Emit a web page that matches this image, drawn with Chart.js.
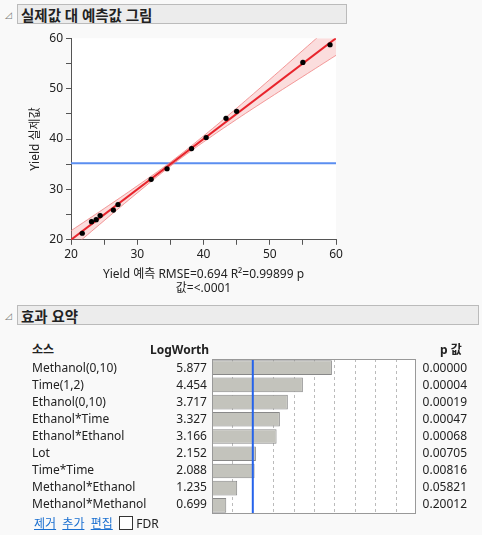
<!DOCTYPE html>
<html><head><meta charset="utf-8">
<script src="https://cdn.jsdelivr.net/npm/chart.js@4"></script>
<style>
body{margin:0;background:#f9f9f9;font-family:"Noto Sans","Noto Sans CJK KR",sans-serif;font-size:12px;color:#222;width:482px;height:535px;position:relative;overflow:hidden}
.hdr{position:absolute;left:17px;height:20px;background:#ececec;border:1px solid #bbb;font-weight:bold;font-size:14.5px;line-height:20px;padding-left:3px;box-sizing:border-box}
.tri{position:absolute;left:5px;font-size:9px;color:#777}
.row{position:absolute;height:17px;line-height:17px;white-space:nowrap}
a{color:#1a6fd0;text-decoration:underline}
</style></head><body>
<div class="tri" style="top:8px">◿</div>
<div class="hdr" style="top:4px;width:330px">실제값 대 예측값 그림</div>
<div class="tri" style="top:309px">◿</div>
<div class="hdr" style="top:305px;width:462px">효과 요약</div>
<div style="position:absolute;left:0;top:28px;width:350px;height:272px"><canvas id="c1"></canvas></div>
<div style="position:absolute;left:211px;top:359px;width:206px;height:155px"><canvas id="c2"></canvas></div>
<div id="tbl"></div>
<script>
const predicted=[21.7,23.1,23.8,24.4,26.4,27.1,32.1,34.5,38.2,40.4,43.4,45.0,55.0,59.1];
const actual=[21.3,23.6,24.0,24.8,25.9,27.0,32.0,34.1,38.1,40.3,44.1,45.5,55.2,58.7];
const bandX=[20,25,30,35,40,45,50,55,60];
const bandHalf=[1.8,1.2,0.7,0.4,0.6,1.1,1.8,2.6,3.4];
const meanY=35.2;
const sources=["Methanol(0,10)","Time(1,2)","Ethanol(0,10)","Ethanol*Time","Ethanol*Ethanol","Lot","Time*Time","Methanol*Ethanol","Methanol*Methanol"];
const logworth=[5.877,4.454,3.717,3.327,3.166,2.152,2.088,1.235,0.699];
const pvals=["0.00000","0.00004","0.00019","0.00047","0.00068","0.00705","0.00816","0.05821","0.20012"];
const F='"Noto Sans","Noto Sans CJK KR",sans-serif';
Chart.defaults.font.family=F;Chart.defaults.color='#222';
const whiteBg={id:'wbg',beforeDraw(ch){const {ctx,chartArea:a}=ch;ctx.save();ctx.fillStyle='#fff';ctx.fillRect(a.left,a.top,a.width,a.height);ctx.restore();}};
new Chart(document.getElementById('c1'),{type:'scatter',
data:{datasets:[
{data:predicted.map((x,i)=>({x,y:actual[i]})),backgroundColor:'#000',pointRadius:2.6,order:0},
{type:'line',data:[{x:20,y:20},{x:60,y:60}],borderColor:'#e8242c',borderWidth:2,pointRadius:0,order:1},
{type:'line',data:bandX.map((x,i)=>({x,y:x-bandHalf[i]})),borderColor:'rgba(240,130,130,0.8)',borderWidth:1,pointRadius:0,tension:0.4,fill:false,order:2},
{type:'line',data:bandX.map((x,i)=>({x,y:x+bandHalf[i]})),borderColor:'rgba(240,130,130,0.8)',borderWidth:1,pointRadius:0,tension:0.4,fill:'-1',backgroundColor:'rgba(240,120,120,0.25)',order:2},
{type:'line',data:[{x:20,y:meanY},{x:60,y:meanY}],borderColor:'#5b8ef0',borderWidth:2,pointRadius:0,order:3}
]},
options:{responsive:true,maintainAspectRatio:false,animation:false,layout:{padding:{top:4,right:14,bottom:0,left:24}},
plugins:{legend:{display:false},tooltip:{enabled:false}},
scales:{
x:{min:20,max:60,ticks:{stepSize:5,font:{size:12},callback:v=>v%10===0?v:''},grid:{drawOnChartArea:false,tickLength:5,color:'#555'},border:{color:'#555'},
 title:{display:true,text:['Yield 예측 RMSE=0.694 R²=0.99899 p','값=<.0001'],font:{size:12},padding:{top:2}}},
y:{min:20,max:60,afterFit:s=>{s.width=47},ticks:{stepSize:5,font:{size:12},callback:v=>v%10===0?v:''},grid:{drawOnChartArea:false,tickLength:5,color:'#555'},border:{color:'#555'},
 title:{display:true,text:'Yield 실제값',font:{size:12},padding:{bottom:4}}}
}},plugins:[whiteBg]});
new Chart(document.getElementById('c2'),{type:'bar',
data:{labels:sources,datasets:[{data:logworth,backgroundColor:'#c3c3bc',borderColor:'#888',borderWidth:1,barPercentage:0.85,categoryPercentage:1}]},
options:{indexAxis:'y',responsive:true,maintainAspectRatio:false,animation:false,layout:{padding:{top:0,right:1,bottom:0,left:1}},
plugins:{legend:{display:false},tooltip:{enabled:false}},
scales:{x:{display:false,min:0,max:10},y:{display:false}}},
plugins:[whiteBg,{id:'xtra',beforeDatasetsDraw(ch){const {ctx,chartArea:a,scales:{x}}=ch;ctx.save();
 ctx.setLineDash([3,3]);ctx.strokeStyle='#bbb';ctx.lineWidth=1;
 for(let v=1;v<10;v++){if(v===2)continue;const px=Math.round(x.getPixelForValue(v))+0.5;ctx.beginPath();ctx.moveTo(px,a.top);ctx.lineTo(px,a.bottom);ctx.stroke();}
 ctx.restore();},
 afterDraw(ch){const {ctx,chartArea:a,scales:{x}}=ch;ctx.save();
 ctx.strokeStyle='#2563eb';ctx.lineWidth=2;const p2=x.getPixelForValue(2);ctx.beginPath();ctx.moveTo(p2,a.top);ctx.lineTo(p2,a.bottom);ctx.stroke();
 ctx.strokeStyle='#999';ctx.lineWidth=1;ctx.strokeRect(a.left+0.5,a.top+0.5,a.width-1,a.height-1);ctx.restore();}}]
});
const t=document.getElementById('tbl');let h='';
h+=`<div class="row" style="left:32px;top:341px;font-weight:bold">소스</div><div class="row" style="left:150px;top:341px;font-weight:bold">LogWorth</div><div class="row" style="left:440px;top:341px;font-weight:bold">p 값</div>`;
sources.forEach((s,i)=>{const y=359+i*17;h+=`<div class="row" style="left:32px;top:${y}px">${s}</div><div class="row" style="left:148px;width:59px;text-align:right;top:${y}px">${logworth[i].toFixed(3)}</div><div class="row" style="left:410px;width:57px;text-align:right;top:${y}px">${pvals[i]}</div>`;});
h+=`<div class="row" style="left:34px;top:515px"><a>제거</a>&nbsp; <a>추가</a>&nbsp; <a>편집</a>&nbsp; <span style="display:inline-block;width:12px;height:12px;border:1px solid #333;background:#fff;vertical-align:-2px"></span> FDR</div>`;
t.innerHTML=h;
</script></body></html>
